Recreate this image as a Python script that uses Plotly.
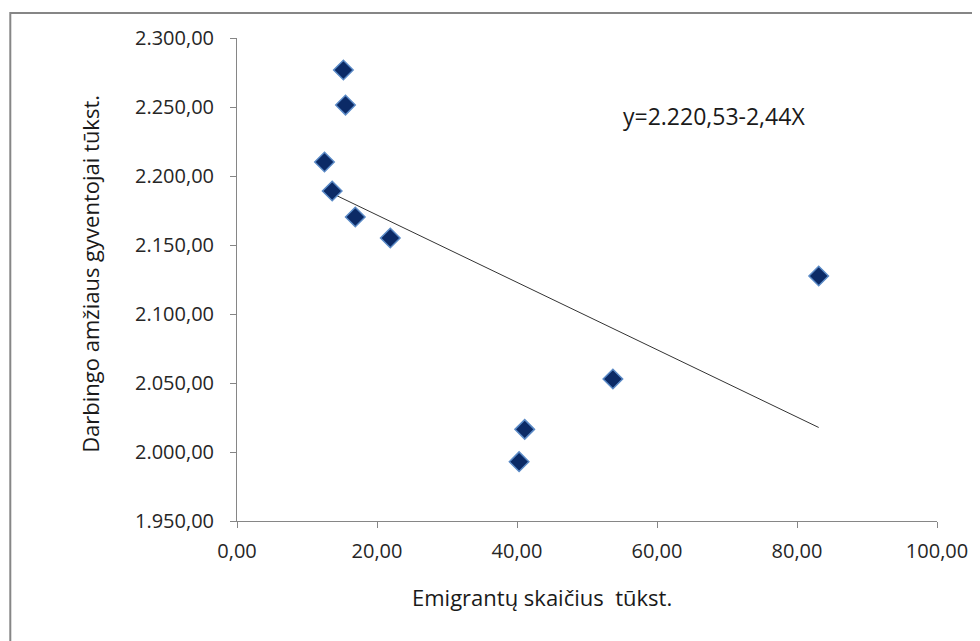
import plotly.graph_objects as go

# Data
emigrants = [15.2, 15.5, 12.5, 13.6, 16.9, 21.9, 53.7, 41.1, 40.3, 83.1]
working_age = [2276.8, 2251.4, 2210.1, 2189.1, 2170.3, 2155.1, 2052.9, 2016.4, 1993.0, 2127.5]
trend_intercept = 2220.53
trend_slope = -2.44
equation_text = "y=2.220,53-2,44X"
x_tickvals = [0, 20, 40, 60, 80, 100]
x_ticktext = ["0,00", "20,00", "40,00", "60,00", "80,00", "100,00"]
y_tickvals = [1950, 2000, 2050, 2100, 2150, 2200, 2250, 2300]
y_ticktext = ["1.950,00", "2.000,00", "2.050,00", "2.100,00", "2.150,00", "2.200,00", "2.250,00", "2.300,00"]
x_title = "Emigrantų skaičius  tūkst."
y_title = "Darbingo amžiaus gyventojai tūkst."

FONT = "Open Sans, Liberation Sans, sans-serif"
OFF = 8  # page body margin
W, H = 980 - OFF, 641 - OFF
# plot area in window pixels: x 235..939, y 38..521
PL, PR, PT, PB = 237, 941, 38, 521
L = PL - OFF
T = PT - OFF
R = W - (PR - OFF)
B = H - (PB - OFF)

xmin, xmax = min(emigrants), max(emigrants)
trend_x = [xmin, xmax]
trend_y = [trend_intercept + trend_slope * v for v in trend_x]

fig = go.Figure()
fig.add_trace(go.Scatter(
    x=trend_x, y=trend_y, mode="lines",
    line=dict(color="#333333", width=1),
    hoverinfo="skip", showlegend=False,
))
fig.add_trace(go.Scatter(
    x=emigrants, y=working_age, mode="markers",
    marker=dict(symbol="diamond", size=15, color="#0b2a66",
                line=dict(color="#5b8ac6", width=1.5)),
    showlegend=False,
))

pw = PR - PL
ph = PB - PT
def px_to_paper_x(p):
    return (p - PL) / pw
def px_to_paper_y(p):
    return (PB - p) / ph

fig.add_shape(type="rect", xref="paper", yref="paper",
              x0=px_to_paper_x(9), x1=px_to_paper_x(1000),
              y0=px_to_paper_y(700), y1=px_to_paper_y(13),
              line=dict(color="#868686", width=2), layer="below")

fig.add_annotation(text=equation_text, xref="paper", yref="paper",
                   x=px_to_paper_x(717), y=px_to_paper_y(116),
                   showarrow=False, xanchor="center", yanchor="middle",
                   font=dict(family=FONT, size=23, color="#1a1a1a"))

fig.add_annotation(text=x_title, xref="paper", yref="paper",
                   x=px_to_paper_x(544), y=px_to_paper_y(597),
                   showarrow=False, xanchor="center", yanchor="middle",
                   font=dict(family=FONT, size=22, color="#1a1a1a"))
fig.add_annotation(text=y_title, xref="paper", yref="paper",
                   x=px_to_paper_x(89), y=px_to_paper_y(274),
                   showarrow=False, xanchor="center", yanchor="middle",
                   textangle=-90,
                   font=dict(family=FONT, size=22, color="#1a1a1a"))

fig.update_layout(
    width=W, height=H,
    margin=dict(l=L, r=R, t=T, b=B),
    paper_bgcolor="white", plot_bgcolor="white",
    font=dict(family=FONT, size=20, color="#262626"),
    xaxis=dict(range=[0, 100], tickvals=x_tickvals, ticktext=x_ticktext,
               showgrid=False, zeroline=False, showline=True,
               linecolor="#868686", linewidth=1, ticks="outside",
               ticklen=6, tickcolor="#868686", tickfont=dict(size=20),
               ticklabelstandoff=6, fixedrange=True),
    yaxis=dict(range=[1950, 2300], tickvals=y_tickvals, ticktext=y_ticktext,
               showgrid=False, zeroline=False, showline=True,
               linecolor="#868686", linewidth=1, ticks="outside",
               ticklen=6, tickcolor="#868686", tickfont=dict(size=20),
               ticklabelstandoff=12, fixedrange=True),
)

fig.write_html("out.html")
